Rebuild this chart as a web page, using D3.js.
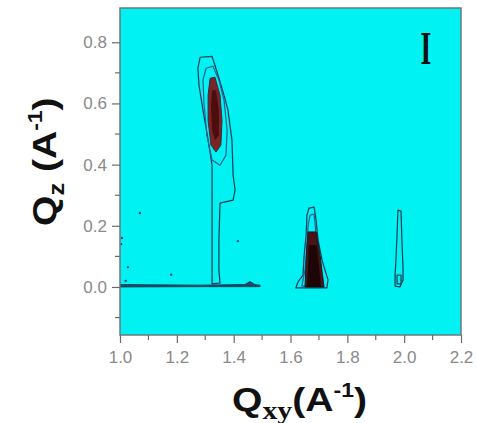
<!DOCTYPE html>
<html>
<head>
<meta charset="utf-8">
<script src="https://cdn.jsdelivr.net/npm/d3@7.9.0/dist/d3.min.js"></script>
<style>
  body { margin: 0; background: #fff; }
  svg { display: block; }
</style>
</head>
<body>
<div id="chart"></div>
<script>
// axis ticks
const xTicks = [1.0, 1.2, 1.4, 1.6, 1.8, 2.0, 2.2];
const xMinor = [1.1, 1.3, 1.5, 1.7, 1.9, 2.1];
const yTicks = [0.0, 0.2, 0.4, 0.6, 0.8];
const yMinor = [-0.1, 0.1, 0.3, 0.5, 0.7];

// contour outlines, [Qxy, Qz]
const peak1Outer = [[1.282,0.751],[1.324,0.754],[1.334,0.725],[1.345,0.692],[1.366,0.627],[1.380,0.578],
  [1.394,0.480],[1.398,0.366],[1.405,0.317],[1.398,0.284],[1.352,0.274],[1.348,0.153],[1.348,0.056],
  [1.352,0.013],[1.324,0.010],[1.324,0.121],[1.324,0.284],[1.324,0.398],[1.310,0.480],[1.292,0.578],
  [1.278,0.660],[1.274,0.715]];
const peak1Mid = [[1.303,0.715],[1.327,0.722],[1.348,0.676],[1.366,0.611],[1.377,0.513],[1.373,0.431],
  [1.352,0.398],[1.324,0.415],[1.306,0.496],[1.296,0.594],[1.292,0.676]];
const peak1Inner = [[1.317,0.682],[1.334,0.686],[1.352,0.627],[1.359,0.545],[1.355,0.464],[1.338,0.441],
  [1.320,0.464],[1.310,0.545],[1.310,0.627]];
const peak1Core = [[1.324,0.643],[1.338,0.643],[1.348,0.578],[1.348,0.496],[1.334,0.480],[1.324,0.513],[1.320,0.594]];

const peak2Outer = [[1.665,0.258],[1.683,0.261],[1.690,0.219],[1.697,0.153],[1.711,0.088],[1.732,0.023],
  [1.728,-0.003],[1.619,-0.003],[1.626,0.016],[1.644,0.039],[1.648,0.104],[1.655,0.170],[1.658,0.235]];
const peak2Mid = [[1.669,0.235],[1.683,0.238],[1.690,0.170],[1.704,0.072],[1.714,0.007],[1.640,0.003],
  [1.651,0.056],[1.658,0.137],[1.662,0.202]];
const peak2Inner = [[1.662,0.180],[1.690,0.180],[1.704,0.104],[1.718,0.0],[1.651,0.0],[1.655,0.082],[1.658,0.137]];
const peak2Core = [[1.665,0.137],[1.693,0.137],[1.707,0.0],[1.658,0.0],[1.662,0.072]];

const peak3Outer = [[1.978,0.251],[1.989,0.248],[1.992,0.153],[1.996,0.062],[1.996,0.023],[1.985,0.0],
  [1.968,0.003],[1.968,0.039],[1.971,0.088],[1.975,0.170]];
const peak3Inner = [[1.975,0.039],[1.989,0.039],[1.989,0.010],[1.975,0.010]];

const streak = [[1.0,0.008],[1.282,0.006],[1.440,0.008],[1.457,0.018],[1.475,0.008],[1.493,0.006],
  [1.493,0.001],[1.282,0.001],[1.0,0.0]];

const specks = [[1.070,0.242],[1.007,0.16],[1.004,0.14],[1.028,0.065],[1.18,0.04],[1.415,0.15],[1.02,0.02]];

const width = 477;
const height = 423;
const margin = { top: 8, right: 16, bottom: 88, left: 120 };
const innerWidth = width - margin.left - margin.right;
const innerHeight = height - margin.top - margin.bottom;

const svg = d3.select('#chart')
  .append('svg')
  .attr('width', width)
  .attr('height', height);

const g = svg.append('g')
  .attr('transform', `translate(${margin.left}, ${margin.top})`);

const x = d3.scaleLinear().domain([1.0, 2.2]).range([0, innerWidth]);
const y = d3.scaleLinear().domain([-0.157, 0.912]).range([innerHeight, 0]);

svg.append('clipPath').attr('id', 'clip')
  .append('rect').attr('width', innerWidth).attr('height', innerHeight);

g.append('rect')
  .attr('width', innerWidth)
  .attr('height', innerHeight)
  .attr('fill', '#00f2f2');

const plot = g.append('g').attr('clip-path', 'url(#clip)');

const line = d3.line()
  .x(d => x(d[0]))
  .y(d => y(d[1]))
  .curve(d3.curveLinearClosed);

// outer contours first, darker fills on top
const layers = [
  { pts: streak, fill: '#134a66', stroke: '#0d3550', sw: 0.8 },
  { pts: peak1Outer, fill: 'none', stroke: '#103a55', sw: 1.2 },
  { pts: peak1Mid, fill: 'none', stroke: '#2a5e90', sw: 1.2 },
  { pts: peak1Inner, fill: '#7a2424', stroke: '#3a2a4a', sw: 1 },
  { pts: peak1Core, fill: '#4a0e0e', stroke: 'none', sw: 0 },
  { pts: peak2Outer, fill: 'none', stroke: '#103a55', sw: 1.2 },
  { pts: peak2Mid, fill: 'none', stroke: '#2a5e90', sw: 1.2 },
  { pts: peak2Inner, fill: '#4a1414', stroke: '#1a1a2a', sw: 1 },
  { pts: peak2Core, fill: '#1c0606', stroke: 'none', sw: 0 },
  { pts: peak3Outer, fill: 'none', stroke: '#103a55', sw: 1.2 },
  { pts: peak3Inner, fill: 'none', stroke: '#103a55', sw: 1.2 }
];

plot.selectAll('.contour')
  .data(layers)
  .join('path')
  .attr('class', 'contour')
  .attr('d', d => line(d.pts))
  .attr('fill', d => d.fill)
  .attr('stroke', d => d.stroke)
  .attr('stroke-width', d => d.sw)
  .attr('stroke-linejoin', 'round');

plot.selectAll('.speck')
  .data(specks)
  .join('circle')
  .attr('class', 'speck')
  .attr('cx', d => x(d[0]))
  .attr('cy', d => y(d[1]))
  .attr('r', 1.2)
  .attr('fill', '#1a4a66');

// frame
g.append('rect')
  .attr('width', innerWidth)
  .attr('height', innerHeight)
  .attr('fill', 'none')
  .attr('stroke', '#6a7a80')
  .attr('stroke-width', 1.5);

const axisColor = '#6a6a6a';
const labelColor = '#8a8a8a';

// x axis
const xAxis = g.append('g')
  .attr('transform', `translate(0, ${innerHeight})`);
xAxis.selectAll('.minor')
  .data(xMinor)
  .join('line')
  .attr('x1', d => x(d)).attr('x2', d => x(d))
  .attr('y1', 0).attr('y2', 5)
  .attr('stroke', axisColor).attr('stroke-width', 1.2);
xAxis.call(d3.axisBottom(x).tickValues(xTicks).tickFormat(d3.format('.1f')).tickSize(8).tickSizeOuter(0));

// y axis
const yAxis = g.append('g');
yAxis.selectAll('.minor')
  .data(yMinor)
  .join('line')
  .attr('x1', 0).attr('x2', -5)
  .attr('y1', d => y(d)).attr('y2', d => y(d))
  .attr('stroke', axisColor).attr('stroke-width', 1.2);
yAxis.call(d3.axisLeft(y).tickValues(yTicks).tickFormat(d3.format('.1f')).tickSize(8).tickSizeOuter(0));

g.selectAll('.domain').remove();
g.selectAll('.tick line').attr('stroke', axisColor).attr('stroke-width', 1.2);
g.selectAll('.tick text')
  .attr('fill', labelColor)
  .style('font-family', 'Liberation Sans, Arial, sans-serif')
  .style('font-size', '17px');
xAxis.selectAll('.tick text').attr('dy', '1.0em');
yAxis.selectAll('.tick text').attr('x', -13);

// panel label
svg.append('text')
  .attr('x', 426)
  .attr('y', 64)
  .attr('text-anchor', 'middle')
  .attr('transform', 'translate(426,0) scale(0.6,1) translate(-426,0)')
  .style('font-family', 'Liberation Serif, Times New Roman, serif')
  .style('font-weight', 'bold')
  .style('font-size', '46px')
  .attr('fill', '#111')
  .text('I');

// axis titles
const titleFont = 'Liberation Sans, Arial, sans-serif';
const xt = svg.append('text')
  .attr('transform', 'translate(232, 411) scale(1.15, 1)')
  .style('font-family', titleFont)
  .style('font-weight', 'bold')
  .style('font-size', '34px')
  .attr('fill', '#111');
xt.append('tspan').text('Q');
xt.append('tspan').attr('dy', 8).style('font-size', '26px')
  .style('font-family', 'Liberation Serif, serif').text('xy');
xt.append('tspan').attr('dy', -8).text('(A');
xt.append('tspan').attr('dy', -14).style('font-size', '20px').text('-1');
xt.append('tspan').attr('dy', 14).text(')');

const yt = svg.append('text')
  .attr('transform', 'translate(56, 226) rotate(-90) scale(1.15, 1)')
  .style('font-family', titleFont)
  .style('font-weight', 'bold')
  .style('font-size', '34px')
  .attr('fill', '#111');
yt.append('tspan').text('Q');
yt.append('tspan').attr('dy', 8).style('font-size', '22px').text('z');
yt.append('tspan').attr('dy', -8).text(' (A');
yt.append('tspan').attr('dy', -14).style('font-size', '20px').text('-1');
yt.append('tspan').attr('dy', 14).text(')');
</script>
</body>
</html>
